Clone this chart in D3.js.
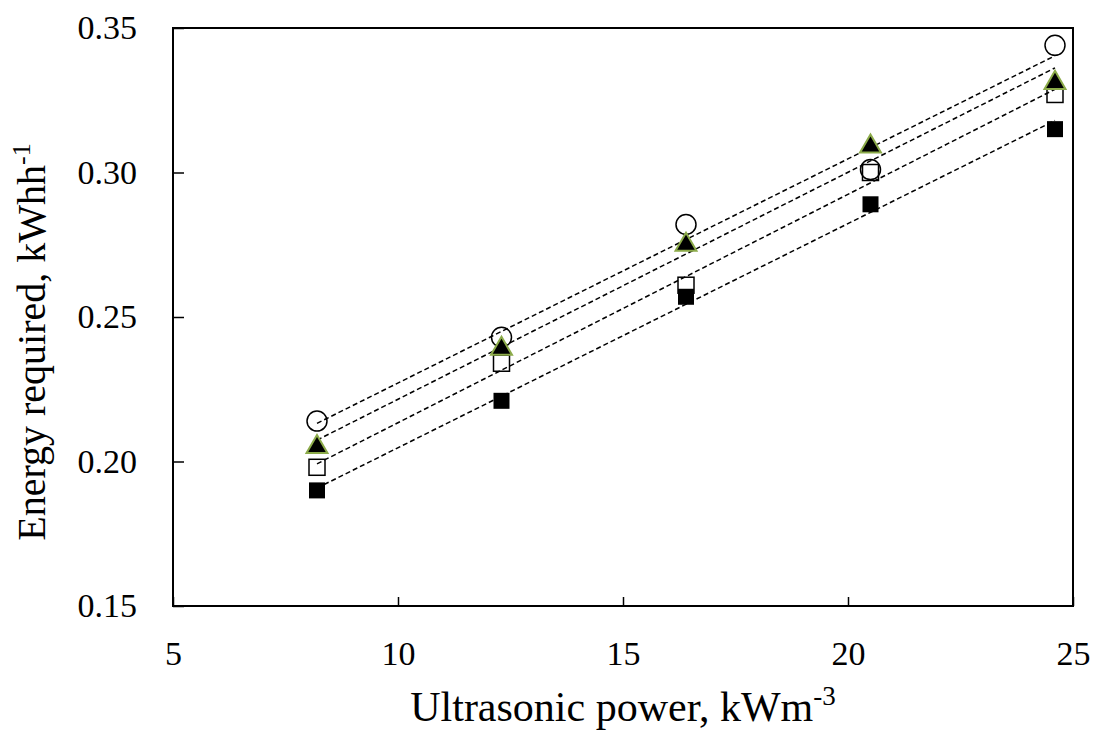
<!DOCTYPE html>
<html>
<head>
<meta charset="utf-8">
<script src="https://cdn.jsdelivr.net/npm/d3@7"></script>
<style>
  body { margin: 0; background: #fff; }
  text { font-family: "Liberation Serif", "Times New Roman", serif; fill: #000; }
</style>
</head>
<body>
<svg id="chart"></svg>
<script>
// ---- DATA ---- //
const power = [8.2, 12.3, 16.4, 20.5, 24.6];
const seriesFilledSquare = [0.190, 0.221, 0.257, 0.289, 0.315];
const seriesOpenSquare = [0.198, 0.234, 0.261, 0.300, 0.327];
const seriesCircle = [0.214, 0.243, 0.282, 0.301, 0.344];
const seriesTriangle = [0.205, 0.239, 0.275, 0.309, 0.331];
const xTicks = [5, 10, 15, 20, 25];
const yTicks = [0.15, 0.20, 0.25, 0.30, 0.35];

// ---- CHART ---- //
const W = 1097, H = 733;
const margin = {top: 28, right: 24, bottom: 127, left: 173},
  width = W - margin.left - margin.right,
  height = H - margin.top - margin.bottom;

const svg = d3.select("#chart")
  .attr("width", W)
  .attr("height", H)
.append("g")
  .attr("transform", "translate(" + margin.left + "," + margin.top + ")");

const xScale = d3.scaleLinear().domain([5, 25]).range([0, width]);
const yScale = d3.scaleLinear().domain([0.15, 0.35]).range([height, 0]);

// frame
svg.append("rect")
  .attr("width", width)
  .attr("height", height)
  .attr("fill", "none")
  .attr("stroke", "#000")
  .attr("stroke-width", 2);

// axes (ticks inward)
const xAxis = d3.axisBottom(xScale).tickValues(xTicks).tickSize(-9).tickPadding(35).tickFormat(d3.format("d"));
svg.append("g")
  .attr("transform", "translate(0," + height + ")")
  .call(xAxis)
  .call(g => g.select(".domain").remove())
  .call(g => g.selectAll("line").attr("stroke", "#000").attr("stroke-width", 1.5))
  .call(g => g.selectAll("text").style("font-size", "34px").attr("dy", "0.71em"));

const yAxis = d3.axisLeft(yScale).tickValues(yTicks).tickSize(-11).tickPadding(36).tickFormat(d3.format(".2f"));
svg.append("g")
  .call(yAxis)
  .call(g => g.select(".domain").remove())
  .call(g => g.selectAll("line").attr("stroke", "#000").attr("stroke-width", 1.5))
  .call(g => g.selectAll("text").style("font-size", "34px"));

// axis titles
const xt = svg.append("text")
  .attr("x", width / 2)
  .attr("y", height + 115)
  .attr("text-anchor", "middle")
  .style("font-size", "42px")
  .text("Ultrasonic power, kWm");
xt.append("tspan").attr("dy", -16).style("font-size", "27px").text("-3");

const yt = svg.append("text")
  .attr("transform", "translate(" + (-128) + "," + 314 + ") rotate(-90)")
  .attr("text-anchor", "middle")
  .style("font-size", "40px")
  .text("Energy required, kWhh");
yt.append("tspan").attr("dy", -15).style("font-size", "26px").text("-1");

// ---- TREND LINES ---- //
const allSeries = [
  {key: "filledSquare", values: seriesFilledSquare},
  {key: "openSquare", values: seriesOpenSquare},
  {key: "circle", values: seriesCircle},
  {key: "triangle", values: seriesTriangle}
];

// least-squares fit of one series against power
function fit(values) {
  const mx = d3.mean(power), my = d3.mean(values);
  let sxy = 0, sxx = 0;
  power.forEach((x, i) => { sxy += (x - mx) * (values[i] - my); sxx += (x - mx) * (x - mx); });
  const m = sxy / sxx;
  return x => my + m * (x - mx);
}

allSeries.forEach(s => {
  const f = fit(s.values);
  const x0 = d3.min(power), x1 = d3.max(power);
  svg.append("line")
    .attr("x1", xScale(x0)).attr("y1", yScale(f(x0)))
    .attr("x2", xScale(x1)).attr("y2", yScale(f(x1)))
    .attr("stroke", "#000")
    .attr("stroke-width", 1.5)
    .attr("stroke-dasharray", "5,3");
});

// ---- MARKERS ---- //
const pts = s => power.map((x, i) => ({x: x, y: s[i]}));

svg.selectAll(".fsq").data(pts(seriesFilledSquare)).enter().append("rect")
  .attr("x", d => xScale(d.x) - 8).attr("y", d => yScale(d.y) - 8)
  .attr("width", 16).attr("height", 16)
  .attr("fill", "#000");

svg.selectAll(".osq").data(pts(seriesOpenSquare)).enter().append("rect")
  .attr("x", d => xScale(d.x) - 8).attr("y", d => yScale(d.y) - 8)
  .attr("width", 16).attr("height", 16)
  .attr("fill", "none").attr("stroke", "#000").attr("stroke-width", 1.5);

svg.selectAll(".circ").data(pts(seriesCircle)).enter().append("circle")
  .attr("cx", d => xScale(d.x)).attr("cy", d => yScale(d.y))
  .attr("r", 10)
  .attr("fill", "none").attr("stroke", "#000").attr("stroke-width", 1.5);

const tri = d3.symbol().type(d3.symbolTriangle).size(190);
svg.selectAll(".tri").data(pts(seriesTriangle)).enter().append("path")
  .attr("transform", d => "translate(" + xScale(d.x) + "," + yScale(d.y) + ")")
  .attr("d", tri)
  .attr("fill", "#000").attr("stroke", "#8cab4a").attr("stroke-width", 2);
</script>
</body>
</html>
